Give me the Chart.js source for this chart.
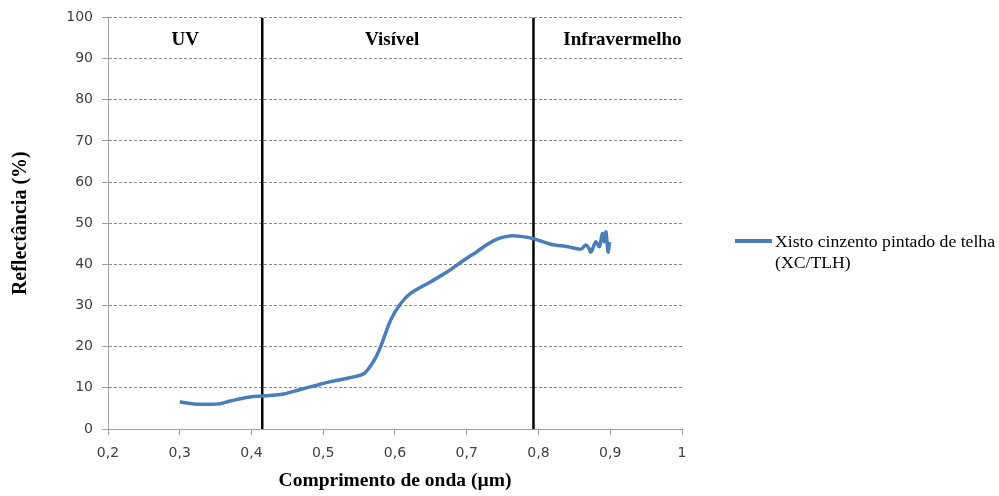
<!DOCTYPE html>
<html lang="pt">
  <head>
    <meta charset="UTF-8" />
    <title>Reflectância</title>
    <style>
      * { margin: 0; padding: 0; }
      body { background: #fff; }
      .chartBox { width: 999px; height: 496px; }
    </style>
  </head>
  <body>
    <div class="chartBox">
      <canvas id="myChart" width="999" height="496"></canvas>
    </div>

    <script src="https://cdn.jsdelivr.net/npm/chart.js"></script>

    <script>
      // data block
      const wavelength = [
        0.300, 0.310, 0.320, 0.330, 0.342, 0.355, 0.366, 0.380, 0.398, 0.415,
        0.430, 0.445, 0.468, 0.490, 0.510, 0.535, 0.557, 0.571, 0.580, 0.594,
        0.608, 0.622, 0.650, 0.673, 0.696, 0.715, 0.730, 0.745, 0.760, 0.775,
        0.794, 0.817, 0.841, 0.859, 0.866, 0.870, 0.873, 0.877, 0.880, 0.885,
        0.889, 0.892, 0.894, 0.897, 0.899, 0.901
      ];
      const reflectance = [
        6.6, 6.3, 6.1, 6.0, 6.0, 6.1, 6.6, 7.2, 7.8, 8.0,
        8.2, 8.5, 9.6, 10.6, 11.5, 12.4, 13.5, 16.7, 20.0, 26.5,
        30.5, 33.0, 35.8, 38.2, 41.0, 43.2, 45.0, 46.3, 46.9, 46.8,
        46.2, 44.9, 44.3, 43.7, 44.7, 44.0, 43.0, 44.5, 45.5, 44.3,
        47.5, 45.5, 47.9, 43.0, 45.0, 45.0
      ];
      const seriesLabel = ["Xisto cinzento pintado de telha", "(XC/TLH)"];

      // region boundaries and labels
      const boundaries = [0.415, 0.793];
      const regionNames = ["UV", "Visível", "Infravermelho"];
      const regionX = [0.3075, 0.596, 0.917];
      const regionY = 94.4;

      const xTicks = [0.2, 0.3, 0.4, 0.5, 0.6, 0.7, 0.8, 0.9, 1];
      const yTicks = [0, 10, 20, 30, 40, 50, 60, 70, 80, 90, 100];

      const blue = "#4A7EBB";
      const serif = "'Liberation Serif', 'Times New Roman', serif";

      const datasets = [
        {
          label: seriesLabel.join(" "),
          data: wavelength.map((w, i) => ({ x: w, y: reflectance[i] })),
          borderColor: blue,
          borderWidth: 3.5,
          pointRadius: 0,
          showLine: true,
          tension: 0.3
        }
      ];
      boundaries.forEach((b) => {
        datasets.push({
          label: "",
          data: [{ x: b, y: 0 }, { x: b, y: 100 }],
          borderColor: "#000",
          borderWidth: 2.5,
          pointRadius: 0,
          showLine: true
        });
      });

      // plugin block: region labels + legend
      const extras = {
        id: "extras",
        afterDraw(chart) {
          const { ctx, scales: { x, y } } = chart;
          ctx.save();
          ctx.fillStyle = "#000";
          ctx.font = "bold 19px " + serif;
          ctx.textAlign = "center";
          ctx.textBaseline = "middle";
          regionNames.forEach((n, i) => {
            ctx.fillText(n, x.getPixelForValue(regionX[i]), y.getPixelForValue(regionY));
          });

          // legend
          ctx.strokeStyle = blue;
          ctx.lineWidth = 4;
          ctx.beginPath();
          ctx.moveTo(735, 241);
          ctx.lineTo(772, 241);
          ctx.stroke();
          ctx.font = "17.7px " + serif;
          ctx.textAlign = "left";
          ctx.fillText(seriesLabel[0], 775, 242);
          ctx.fillText(seriesLabel[1], 775, 263);
          ctx.restore();
        }
      };

      // config block
      const config = {
        type: "scatter",
        data: { datasets },
        options: {
          responsive: false,
          animation: false,
          layout: { padding: { top: 17, right: 317, left: 0, bottom: 0 } },
          plugins: {
            legend: { display: false },
            tooltip: { enabled: false }
          },
          scales: {
            x: {
              type: "linear",
              min: 0.2,
              max: 1,
              afterBuildTicks: (s) => { s.ticks = xTicks.map((v) => ({ value: v })); },
              afterFit: (s) => { s.height = 67; },
              ticks: {
                color: "#404040",
                font: { family: "'DejaVu Sans'", size: 14 },
                padding: 10,
                callback: (v) => String(Math.round(v * 10) / 10).replace(".", ",")
              },
              grid: {
                drawOnChartArea: false,
                drawTicks: true,
                tickLength: 6,
                color: "#a0a0a0"
              },
              border: { color: "#a0a0a0", width: 1 },
              title: {
                display: true,
                text: "Comprimento de onda (µm)",
                color: "#000",
                font: { family: serif, size: 19.5, weight: "bold" },
                padding: { top: 4, bottom: 3 }
              }
            },
            y: {
              min: 0,
              max: 100,
              afterBuildTicks: (s) => { s.ticks = yTicks.map((v) => ({ value: v })); },
              afterFit: (s) => { s.width = 108; },
              ticks: {
                color: "#404040",
                font: { family: "'DejaVu Sans'", size: 14 },
                padding: 9
              },
              grid: {
                color: "#8c8c8c",
                tickColor: "#a0a0a0",
                tickLength: 6
              },
              border: { color: "#a0a0a0", width: 1, dash: [3, 2] },
              title: {
                display: true,
                text: "Reflectância (%)",
                color: "#000",
                font: { family: serif, size: 20, weight: "bold" },
                padding: { top: 9, bottom: 0 }
              }
            }
          }
        },
        plugins: [extras]
      };

      // init render block
      const myChart = new Chart(document.getElementById("myChart"), config);
    </script>
  </body>
</html>
